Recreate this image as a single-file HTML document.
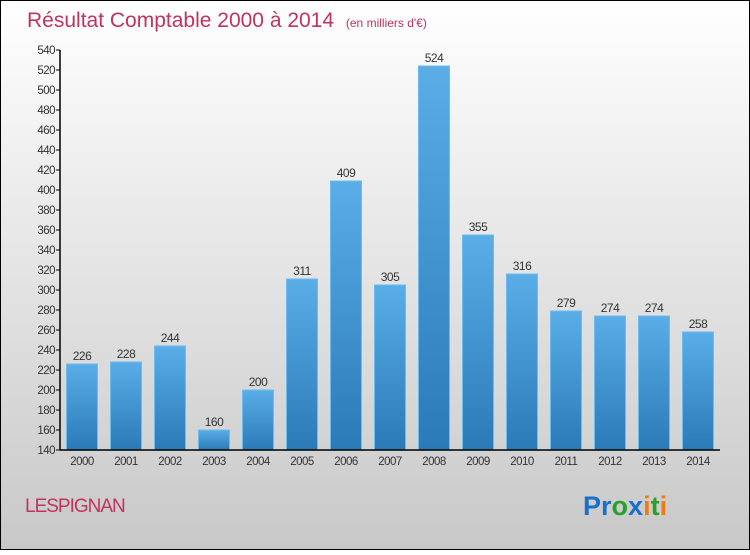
<!DOCTYPE html>
<html><head><meta charset="utf-8"><style>
html,body{margin:0;padding:0}
body{width:750px;height:550px;overflow:hidden;font-family:"Liberation Sans",sans-serif}
</style></head><body>
<svg width="750" height="550">
<defs>
<linearGradient id="bg" x1="0" y1="0" x2="0" y2="1"><stop offset="0" stop-color="#ffffff"/><stop offset="1" stop-color="#c8c8c8"/></linearGradient>
<linearGradient id="bar" x1="0" y1="0" x2="0" y2="1"><stop offset="0" stop-color="#5aade6"/><stop offset="1" stop-color="#2a7ab8"/></linearGradient>
</defs>
<rect x="0.5" y="0.5" width="749" height="549" fill="url(#bg)" stroke="#000"/>
<text x="27" y="27" font-size="21" fill="#c0335f">Résultat Comptable 2000 à 2014 <tspan font-size="12" dx="6">(en milliers d'€)</tspan></text>
<g id="plot"></g>
<text x="25" y="512" font-size="19" fill="#c0335f" letter-spacing="-1">LESPIGNAN</text>
<text x="583" y="515" font-size="27" font-weight="bold"><tspan fill="#1a6fc8">Pr</tspan><tspan fill="#2aa02a">o</tspan><tspan fill="#1a6fc8">x</tspan><tspan fill="#f07a10">i</tspan><tspan fill="#2aa02a">t</tspan><tspan fill="#f07a10">i</tspan></text>
</svg>
<script>
const years=["2000","2001","2002","2003","2004","2005","2006","2007","2008","2009","2010","2011","2012","2013","2014"];
const values=[226,228,244,160,200,311,409,305,524,355,316,279,274,274,258];
const ticks=[140,160,180,200,220,240,260,280,300,320,340,360,380,400,420,440,460,480,500,520,540];
const NS="http://www.w3.org/2000/svg";
const g=document.getElementById('plot');
const x0=60,step=44,yB=450,yMin=140,yMax=540,yT=50;
const y=v=>yB-(v-yMin)/(yMax-yMin)*(yB-yT);
const xc=i=>x0+step*i+step/2;
function mk(t,a){const e=document.createElementNS(NS,t);for(const k in a)e.setAttribute(k,a[k]);g.appendChild(e);return e;}
ticks.forEach(t=>{
 const l=mk('line',{x1:x0-4,x2:x0,y1:y(t),y2:y(t),stroke:'#000'});
 
 
 const tx=mk('text',{x:x0-5,y:y(t)+4,'font-size':11.5,'text-anchor':'end',fill:'#333','letter-spacing':'-0.5'});
 tx.textContent=t;
 
 
});
values.forEach((v,i)=>{
 const r=mk('rect',{x:xc(i)-15.5,y:y(v),width:31,height:yB-y(v),fill:'url(#bar)',stroke:'#6bbcf0','stroke-width':1});
 
 
 const t=mk('text',{x:xc(i),y:y(v)-4,'font-size':12,'text-anchor':'middle',fill:'#333','letter-spacing':'-0.5'});
 t.textContent=v;
 
 
 const xl=mk('text',{x:xc(i),y:yB+15,'font-size':11.5,'text-anchor':'middle',fill:'#333','letter-spacing':'-0.5'});
 xl.textContent=years[i];
 
 
});
const ya=mk('line',{x1:x0,x2:x0,y1:yT,y2:yB,stroke:'#000','stroke-width':1.5});


const xa=mk('line',{x1:x0,x2:x0+step*15,y1:yB,y2:yB,stroke:'#000','stroke-width':1.5});


</script>
</body></html>
